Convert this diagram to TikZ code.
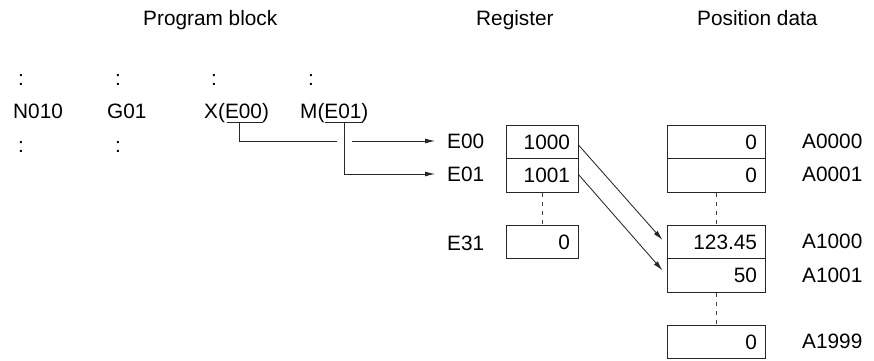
\documentclass[tikz,border=0pt]{standalone}
\usepackage{fontspec}
\setmainfont{Liberation Sans}
\usetikzlibrary{arrows.meta}
\begin{document}
\begin{tikzpicture}[x=1pt,y=1pt,
  every node/.style={font=\fontsize{20.8}{24}\selectfont, text=black},
  lab/.style={anchor=base west, inner sep=0pt},
  colon/.style={anchor=base, inner sep=0pt},
  cell/.style={draw=black!85, line width=1pt, minimum height=33.5pt, inner xsep=8pt, align=right},
  regcell/.style={cell, minimum width=72pt, text width=56pt},
  poscell/.style={cell, minimum width=98pt, text width=82pt},
  wire/.style={draw=black!85, line width=0.85pt},
  arr/.style={wire, -{Latex[length=10pt,width=5pt]}},
  dots/.style={draw=black!75, line width=0.85pt, dash pattern=on 4pt off 5pt}]
\useasboundingbox (0,0) rectangle (874,-360);
% headers
\node[lab] (h1) at (143,-25) {Program block};
\node[lab] (h2) at (476,-25) {Register};
\node[lab] (h3) at (697,-25) {Position data};
% program block
\node[colon] (c1) at (21,-85) {:};
\node[colon] (c2) at (118,-85) {:};
\node[colon] (c3) at (214,-85) {:};
\node[colon] (c4) at (311,-85) {:};
\node[lab] (n010) at (13,-118) {N010};
\node[lab] (g01) at (107,-118) {G01};
\node[lab] (xe) at (204,-118) {X(E00)};
\node[lab] (me) at (300,-118) {M(E01)};
\node[colon] (c5) at (21,-152) {:};
\node[colon] (c6) at (118,-152) {:};
\coordinate (ux) at (239,-122.5);
\coordinate (um) at (344,-122.5);
\draw[wire] (227,-122.5) -- (263,-122.5);
\draw[wire] (325,-122.5) -- (363,-122.5);
% register labels and cells
\node[lab] (e00) at (447,-148) {E00};
\node[lab] (e01) at (447,-181) {E01};
\node[lab] (e31) at (447,-250) {E31};
\node[regcell] (r0) at (542,-142) {1000};
\node[regcell] (r1) at (542,-175.5) {1001};
\node[regcell] (r31) at (542,-242) {0};
\draw[dots] (r1.south) -- (r31.north);
% position data
\node[poscell] (p0) at (716,-142) {0};
\node[poscell] (p1) at (716,-175.5) {0};
\node[poscell] (p2) at (716,-242) {123.45};
\node[poscell] (p3) at (716,-275.5) {50};
\node[poscell] (p4) at (716,-342) {0};
\draw[dots] (p1.south) -- (p2.north);
\draw[dots] (p3.south) -- (p4.north);
\node[lab] (a0) at (802,-148) {A0000};
\node[lab] (a1) at (802,-181) {A0001};
\node[lab] (a2) at (802,-248) {A1000};
\node[lab] (a3) at (802,-282) {A1001};
\node[lab] (a4) at (802,-348) {A1999};
% connectors
\coordinate (gl) at (337,-141);
\coordinate (gr) at (352,-141);
\coordinate (t0) at (435,-141);
\coordinate (t1) at (435,-174);
\draw[wire] (ux) |- (gl);
\draw[arr] (gr) -- (t0);
\draw[arr] (um) |- (t1);
\draw[arr] ([yshift=-3pt]r0.east) -- ([xshift=-4pt,yshift=2pt]p2.west);
\draw[arr] ([yshift=1pt]r1.east) -- ([xshift=-4pt,yshift=5pt]p3.west);
\end{tikzpicture}
\end{document}
